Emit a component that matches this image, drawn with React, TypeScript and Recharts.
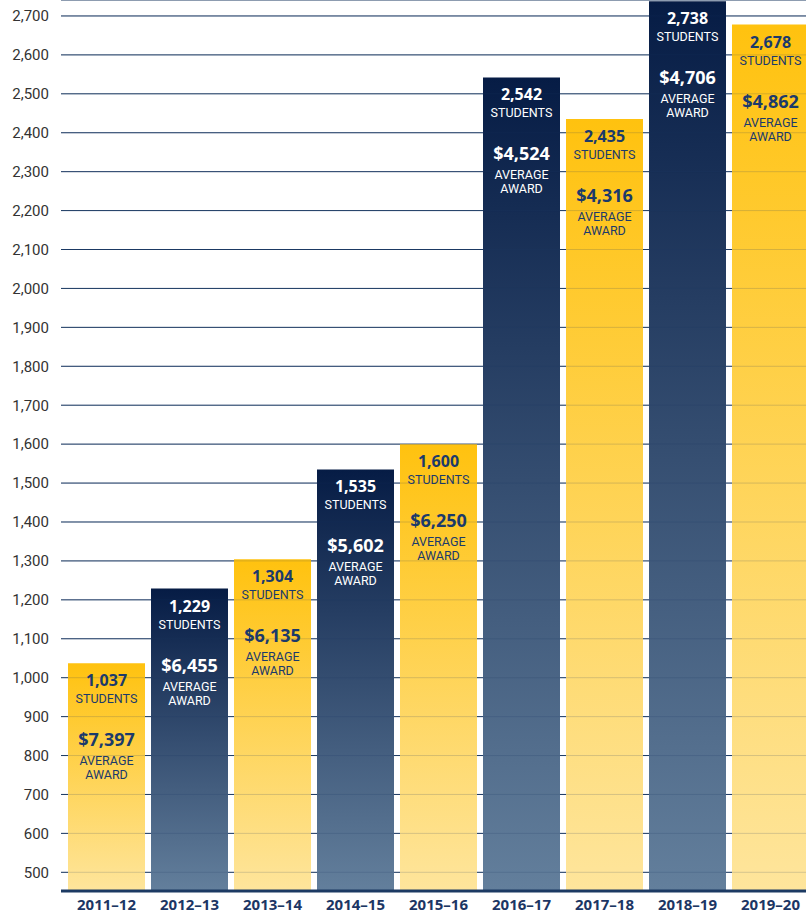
import { BarChart, Bar, XAxis, YAxis, CartesianGrid, Cell, LabelList, ReferenceLine } from 'recharts'

const years = ['2011–12', '2012–13', '2013–14', '2014–15', '2015–16', '2016–17', '2017–18', '2018–19', '2019–20']
const students = [1037, 1229, 1304, 1535, 1600, 2542, 2435, 2738, 2678]
const awards = [7397, 6455, 6135, 5602, 6250, 4524, 4316, 4706, 4862]
const yTicks = [500, 600, 700, 800, 900, 1000, 1100, 1200, 1300, 1400, 1500, 1600, 1700, 1800, 1900, 2000, 2100, 2200, 2300, 2400, 2500, 2600, 2700]

const NAVY = '#1c3a63'
const NARROW = '"Liberation Sans Narrow", "Roboto", sans-serif'
const BOLD = '"Noto Sans", "Open Sans", sans-serif'

const data = years.map((year, i) => ({ year, students: students[i], award: awards[i] }))

const fmt = (n: number) => n.toLocaleString('en-US')

// navy bars on odd indexes, gold on even
const isNavy = (i: number) => i % 2 === 1

function BarText(props: any) {
  const { x, y, width, index } = props
  const cx = x + width / 2
  const color = isNavy(index) ? '#ffffff' : '#1b3a6b'
  return (
    <g fill={color} textAnchor="middle">
      <text x={cx} y={y + 23} fontFamily={BOLD} fontWeight={700} fontSize={16}>
        {fmt(students[index])}
      </text>
      <text x={cx} y={y + 40} fontFamily={NARROW} fontSize={12.5}>
        STUDENTS
      </text>
      <text x={cx} y={y + 83} fontFamily={BOLD} fontWeight={700} fontSize={18}>
        ${fmt(awards[index])}
      </text>
      <text x={cx} y={y + 102} fontFamily={NARROW} fontSize={12.5}>
        AVERAGE
      </text>
      <text x={cx} y={y + 116} fontFamily={NARROW} fontSize={12.5}>
        AWARD
      </text>
    </g>
  )
}

export default function App() {
  return (
    <div
      style={{
        position: 'absolute',
        left: 0,
        top: 0,
        width: 806,
        height: 916,
        overflow: 'hidden',
        background: '#fff',
      }}
    >
      {/* clipped headline from the page above */}
      <div
        style={{
          position: 'absolute',
          left: 0,
          width: 834,
          top: -27,
          textAlign: 'center',
          fontFamily: BOLD,
          fontWeight: 700,
          fontSize: 30,
          lineHeight: '30px',
          letterSpacing: 6,
          color: '#fdc82f',
        }}
      >
        continues to increase
      </div>
      <BarChart
        width={812}
        height={916}
        data={data}
        margin={{ top: 0, right: 0, bottom: 0, left: 0 }}
        barSize={77}
      >
        <defs>
          <linearGradient id="gNavy" x1="0" y1="0" x2="0" y2="1">
            <stop offset="0%" stopColor="#061c45" />
            <stop offset="100%" stopColor="#637f9c" />
          </linearGradient>
          <linearGradient id="gGold" x1="0" y1="0" x2="0" y2="1">
            <stop offset="0%" stopColor="#ffc20f" />
            <stop offset="100%" stopColor="#fee59c" />
          </linearGradient>
        </defs>
        <CartesianGrid horizontal vertical={false} stroke={NAVY} strokeWidth={1} />
        <XAxis
          dataKey="year"
          height={25}
          padding={{ left: 4, right: 0 }}
          tickLine={false}
          axisLine={{ stroke: NAVY, strokeWidth: 3 }}
          tick={{ fill: '#1c3664', fontSize: 15, fontWeight: 700, fontFamily: BOLD }}
          interval={0}
        />
        <YAxis
          width={61}
          domain={[452, 2741]}
          ticks={yTicks}
          allowDataOverflow
          axisLine={false}
          tickLine={false}
          tickMargin={6}
          tickFormatter={(v: number) => fmt(v)}
          tick={{ fill: '#333333', fontSize: 15, fontFamily: NARROW }}
        />
        <Bar dataKey="students" isAnimationActive={false}>
          {data.map((d, i) => (
            <Cell key={d.year} fill={isNavy(i) ? 'url(#gNavy)' : 'url(#gGold)'} />
          ))}
          <LabelList dataKey="students" content={BarText} />
        </Bar>
        {/* faint gridlines showing through the bars */}
        {yTicks.map((t) => (
          <ReferenceLine key={t} y={t} stroke={NAVY} strokeOpacity={0.18} />
        ))}
      </BarChart>
    </div>
  )
}
